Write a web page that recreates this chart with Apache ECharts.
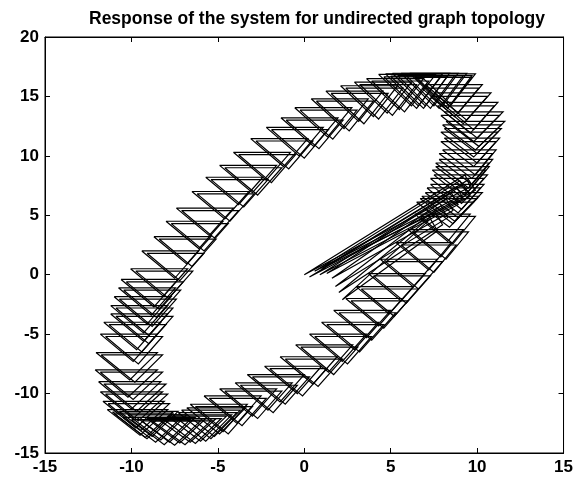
<!DOCTYPE html>
<html>
<head>
<meta charset="utf-8">
<script src="https://cdn.jsdelivr.net/npm/echarts@6/dist/echarts.min.js"></script>
<style>
html, body { margin: 0; padding: 0; background: #fff; }
#main { width: 576px; height: 479px; }
</style>
</head>
<body>
<div id="main"></div>
<script>
// axis ticks
var xTicks = [-15, -10, -5, 0, 5, 10, 15];
var yTicks = [-15, -10, -5, 0, 5, 10, 15, 20];

// one triangle per time step: a = upper-left agent, b = upper-right agent, c = lower agent
// first lap. groups: start from origin, lower arm, right arm, top, upper-left arm, bottom
var ax = [0, 0.6, 1.0, 1.3, 1.6, 1.8, 2.0,
    -6.6, -5.8, -4.9, -4.0, -3.3, -2.3, -1.4, -0.5, 0.3, 1.0, 1.7, 2.4, 3.0, 3.7, 4.4, 5.3, 6.0, 6.4,
    6.7, 7.0, 7.3, 7.5, 7.6, 7.8, 8.0, 8.1, 8.1, 8.2, 8.1, 7.9, 7.5, 7.0, 6.6,
    6.1, 5.6, 5.1, 4.7, 4.3, 3.6, 2.9, 2.1, 1.25, 0.4,
    -0.55, -1.35, -2.2, -3.1, -4.1, -4.9, -5.7, -6.5, -7.4, -8.0, -8.7, -9.4, -10.05, -10.6, -10.75, -11.0, -11.2, -11.2, -11.6, -11.8, -12.05, -12.1, -11.9, -11.8, -11.65, -11.4,
    -11.0, -10.5, -10.0, -9.4, -8.8, -8.2, -7.6, -7.1];
var ay = [0, 0.3, 0.5, 0.1, -0.3, -1.0, -1.5,
    -10.9, -10.2, -9.6, -9.1, -8.4, -7.7, -6.9, -5.9, -5.0, -4.0, -3.0, -2.0, -1.0, 0.1, 1.3, 2.7, 3.8, 5.1,
    6.4, 6.9, 7.6, 8.4, 9.1, 9.7, 10.5, 11.5, 12.3, 12.9, 13.7, 14.5, 15.3, 16.0, 16.9,
    16.95, 16.95, 16.95, 16.9, 16.85, 16.5, 16.2, 15.9, 15.45, 14.8,
    14.05, 13.2, 12.4, 11.45, 10.3, 9.2, 8.2, 7.0, 5.6, 4.5, 3.2, 2.0, 0.5, -0.4, -1.1, -1.85, -2.6, -3.3, -4.0, -5.0, -6.55, -8.0, -9.0, -9.85, -10.65, -11.35,
    -11.7, -12.0, -12.2, -12.3, -12.3, -12.1, -11.8, -11.4];
var bx = [9.3, 9.0, 8.8, 8.5, 8.2, 7.9, 7.6,
    -3.3, -2.5, -1.6, -0.7, 0.0, 1.0, 1.9, 2.8, 3.6, 4.3, 5.0, 5.7, 6.3, 7.0, 7.7, 8.5, 9.2, 9.6,
    10.0, 10.3, 10.4, 10.6, 10.7, 10.9, 11.1, 11.3, 11.4, 11.6, 11.5, 11.2, 10.8, 10.3, 9.9,
    9.4, 8.9, 8.4, 8.0, 7.6, 6.9, 6.2, 5.4, 4.55, 3.7,
    2.75, 1.95, 1.1, 0.2, -0.8, -1.6, -2.4, -3.2, -4.1, -4.7, -5.4, -6.1, -6.75, -7.3, -7.45, -7.7, -7.9, -7.9, -8.3, -8.5, -8.5, -8.5, -8.3, -8.2, -8.1, -7.9,
    -7.6, -7.1, -6.6, -6.0, -5.4, -4.8, -4.2, -3.7];
var by = [8.4, 7.9, 7.4, 6.9, 6.4, 5.8, 5.2,
    -10.9, -10.2, -9.6, -9.1, -8.4, -7.7, -6.9, -5.9, -5.0, -4.0, -3.0, -2.0, -1.0, 0.1, 1.3, 2.7, 3.8, 5.1,
    6.4, 6.9, 7.6, 8.4, 9.1, 9.7, 10.5, 11.5, 12.3, 12.9, 13.7, 14.5, 15.3, 16.0, 16.9,
    16.95, 16.95, 16.95, 16.9, 16.85, 16.5, 16.2, 15.9, 15.45, 14.8,
    14.05, 13.2, 12.4, 11.45, 10.3, 9.2, 8.2, 7.0, 5.6, 4.5, 3.2, 2.0, 0.5, -0.4, -1.1, -1.85, -2.6, -3.3, -4.0, -5.0, -6.55, -8.0, -9.0, -9.85, -10.65, -11.35,
    -11.7, -12.0, -12.2, -12.3, -12.3, -12.1, -11.8, -11.4];
var cx = [9.6, 9.4, 9.2, 8.9, 8.6, 8.3, 8.0,
    -4.7, -3.9, -3.0, -2.1, -1.4, -0.4, 0.5, 1.4, 2.2, 2.9, 3.6, 4.3, 4.9, 5.6, 6.3, 7.2, 7.9, 8.3,
    8.6, 8.9, 9.1, 9.3, 9.5, 9.7, 9.9, 10.0, 10.0, 10.1, 10.0, 9.8, 9.4, 8.9, 8.5,
    8.0, 7.5, 7.0, 6.6, 6.2, 5.5, 4.8, 4.0, 3.15, 2.3,
    1.35, 0.55, -0.3, -1.2, -2.2, -3.0, -3.8, -4.6, -5.5, -6.1, -6.8, -7.5, -8.15, -8.7, -8.85, -9.1, -9.3, -9.3, -9.7, -9.9, -10.1, -10.2, -10.0, -9.9, -9.75, -9.5,
    -9.1, -8.6, -8.1, -7.5, -6.9, -6.3, -5.7, -5.2];
var cy = [7.4, 6.9, 6.4, 5.9, 5.4, 4.8, 4.2,
    -13.2, -12.5, -11.9, -11.4, -10.7, -10.0, -9.2, -8.2, -7.3, -6.3, -5.3, -4.3, -3.3, -2.2, -1.0, 0.4, 1.5, 2.8,
    4.3, 4.8, 5.5, 6.3, 7.0, 7.6, 8.4, 9.4, 10.2, 10.8, 11.5, 12.2, 13.0, 13.6, 14.3,
    14.2, 14.2, 14.2, 14.2, 14.2, 13.9, 13.6, 13.3, 12.9, 12.3,
    11.6, 10.8, 10.0, 9.1, 7.95, 6.9, 5.9, 4.7, 3.3, 2.2, 0.9, -0.3, -1.8, -2.7, -3.4, -4.15, -4.9, -5.6, -6.3, -7.3, -8.85, -10.3, -11.3, -12.1, -12.9, -13.5,
    -13.8, -14.1, -14.3, -14.35, -14.3, -14.2, -14.0, -13.6];

// second lap, drawn a little off the first one
var ax2 = [0.3, 0.9, 2.2,
    -6.3, -5.5, -4.6, -3.7, -3.0, -2.0, -1.1, -0.2, 0.6, 1.3, 2.0, 2.7, 3.3, 4.0, 4.7, 5.6, 6.3, 6.7,
    6.5, 6.8, 7.1, 7.3, 7.4, 7.6, 7.8, 7.9, 7.9, 8.0, 7.9, 7.7, 7.3, 6.8, 6.4,
    6.4, 5.9, 5.4, 5.0, 4.6, 3.9, 3.2, 2.4, 1.55, 0.7,
    -0.25, -1.05, -1.9, -2.8, -3.8, -4.6, -5.4, -6.2, -7.1, -7.7, -8.4, -9.1, -9.75, -10.3, -10.45, -10.7, -10.9, -10.9, -11.3, -11.5, -11.75, -11.8, -11.6, -11.5, -11.35, -11.1,
    -10.7, -10.2, -9.7, -9.1, -8.5, -7.9, -7.3, -6.8];
var ay2 = [-0.2, 0.0, -2.1,
    -11.1, -10.4, -9.8, -9.3, -8.6, -7.9, -7.1, -6.1, -5.2, -4.2, -3.2, -2.2, -1.2, -0.1, 1.1, 2.5, 3.6, 4.9,
    6.1, 6.6, 7.3, 8.1, 8.8, 9.4, 10.2, 11.2, 12.0, 12.6, 13.4, 14.2, 15.0, 15.7, 16.6,
    16.75, 16.75, 16.75, 16.7, 16.65, 16.3, 16.0, 15.7, 15.25, 14.6,
    13.85, 13.0, 12.2, 11.25, 10.1, 9.0, 8.0, 6.8, 5.4, 4.3, 3.0, 1.8, 0.3, -0.6, -1.3, -2.05, -2.8, -3.5, -4.2, -5.2, -6.75, -8.2, -9.2, -10.05, -10.85, -11.55,
    -11.5, -11.8, -12.0, -12.1, -12.1, -11.9, -11.6, -11.2];
var bx2 = [9.5, 9.2, 7.3,
    -3.0, -2.2, -1.3, -0.4, 0.3, 1.3, 2.2, 3.1, 3.9, 4.6, 5.3, 6.0, 6.6, 7.3, 8.0, 8.8, 9.5, 9.9,
    9.8, 10.1, 10.2, 10.4, 10.5, 10.7, 10.9, 11.1, 11.2, 11.4, 11.3, 11.0, 10.6, 10.1, 9.7,
    9.7, 9.2, 8.7, 8.3, 7.9, 7.2, 6.5, 5.7, 4.85, 4.0,
    3.05, 2.25, 1.4, 0.5, -0.5, -1.3, -2.1, -2.9, -3.8, -4.4, -5.1, -5.8, -6.45, -7.0, -7.15, -7.4, -7.6, -7.6, -8.0, -8.2, -8.2, -8.2, -8.0, -7.9, -7.8, -7.6,
    -7.3, -6.8, -6.3, -5.7, -5.1, -4.5, -3.9, -3.4];
var by2 = [8.0, 7.6, 4.7,
    -11.1, -10.4, -9.8, -9.3, -8.6, -7.9, -7.1, -6.1, -5.2, -4.2, -3.2, -2.2, -1.2, -0.1, 1.1, 2.5, 3.6, 4.9,
    6.1, 6.6, 7.3, 8.1, 8.8, 9.4, 10.2, 11.2, 12.0, 12.6, 13.4, 14.2, 15.0, 15.7, 16.6,
    16.75, 16.75, 16.75, 16.7, 16.65, 16.3, 16.0, 15.7, 15.25, 14.6,
    13.85, 13.0, 12.2, 11.25, 10.1, 9.0, 8.0, 6.8, 5.4, 4.3, 3.0, 1.8, 0.3, -0.6, -1.3, -2.05, -2.8, -3.5, -4.2, -5.2, -6.75, -8.2, -9.2, -10.05, -10.85, -11.55,
    -11.5, -11.8, -12.0, -12.1, -12.1, -11.9, -11.6, -11.2];
var cx2 = [9.9, 9.6, 7.7,
    -4.4, -3.6, -2.7, -1.8, -1.1, -0.1, 0.8, 1.7, 2.5, 3.2, 3.9, 4.6, 5.2, 5.9, 6.6, 7.5, 8.2, 8.6,
    8.4, 8.7, 8.9, 9.1, 9.3, 9.5, 9.7, 9.8, 9.8, 9.9, 9.8, 9.6, 9.2, 8.7, 8.3,
    8.3, 7.8, 7.3, 6.9, 6.5, 5.8, 5.1, 4.3, 3.45, 2.6,
    1.65, 0.85, 0.0, -0.9, -1.9, -2.7, -3.5, -4.3, -5.2, -5.8, -6.5, -7.2, -7.85, -8.4, -8.55, -8.8, -9.0, -9.0, -9.4, -9.6, -9.8, -9.9, -9.7, -9.6, -9.45, -9.2,
    -8.8, -8.3, -7.8, -7.2, -6.6, -6.0, -5.4, -4.9];
var cy2 = [7.1, 6.6, 3.7,
    -13.4, -12.7, -12.1, -11.6, -10.9, -10.2, -9.4, -8.4, -7.5, -6.5, -5.5, -4.5, -3.5, -2.4, -1.2, 0.2, 1.3, 2.6,
    4.0, 4.5, 5.2, 6.0, 6.7, 7.3, 8.1, 9.1, 9.9, 10.5, 11.2, 11.9, 12.7, 13.3, 14.0,
    14.0, 14.0, 14.0, 14.0, 14.0, 13.7, 13.4, 13.1, 12.7, 12.1,
    11.4, 10.6, 9.8, 8.9, 7.75, 6.7, 5.7, 4.5, 3.1, 2.0, 0.7, -0.5, -2.0, -2.9, -3.6, -4.35, -5.1, -5.8, -6.5, -7.5, -9.05, -10.5, -11.5, -12.3, -13.1, -13.7,
    -13.6, -13.9, -14.1, -14.15, -14.1, -14.0, -13.8, -13.4];

function buildTriangles(pax, pay, pbx, pby, pcx, pcy) {
    var list = [];
    for (var i = 0; i < pax.length; i++) {
        list.push({
            coords: [[pax[i], pay[i]], [pbx[i], pby[i]], [pcx[i], pcy[i]], [pax[i], pay[i]]]
        });
    }
    return list;
}
var triangles = buildTriangles(ax, ay, bx, by, cx, cy)
    .concat(buildTriangles(ax2, ay2, bx2, by2, cx2, cy2));

var labelFont = {color: '#000', fontFamily: 'Liberation Sans', fontWeight: 'bold', fontSize: 17};

function axisCommon(ticks, pos, showLabel) {
    return {
        type: 'value',
        position: pos,
        min: ticks[0],
        max: ticks[ticks.length - 1],
        interval: 5,
        axisLine: {show: true, onZero: false, lineStyle: {color: '#000', width: 1}},
        axisTick: {show: true, inside: true, length: 5, lineStyle: {color: '#000'}},
        splitLine: {show: false},
        axisLabel: showLabel ? Object.assign({margin: 6, showMinLabel: true, showMaxLabel: true}, labelFont) : {show: false}
    };
}

var option = {
    animation: false,
    backgroundColor: '#fff',
    title: {
        text: 'Response of the system for undirected graph topology',
        left: 312,
        textAlign: 'center',
        top: 5,
        textStyle: {color: '#000', fontFamily: 'Liberation Sans', fontWeight: 'bold', fontSize: 17.5}
    },
    grid: {left: 45, right: 11, top: 37, bottom: 26, show: true, borderColor: '#000', borderWidth: 1},
    xAxis: [axisCommon(xTicks, 'bottom', true), axisCommon(xTicks, 'top', false)],
    yAxis: [axisCommon(yTicks, 'left', true), axisCommon(yTicks, 'right', false)],
    series: [{
        type: 'lines',
        coordinateSystem: 'cartesian2d',
        xAxisIndex: 0,
        yAxisIndex: 0,
        polyline: true,
        silent: true,
        lineStyle: {color: '#000', width: 1.2, opacity: 1},
        data: triangles
    }]
};

var myChart = echarts.init(document.getElementById('main'));
myChart.setOption(option);
</script>
</body>
</html>
